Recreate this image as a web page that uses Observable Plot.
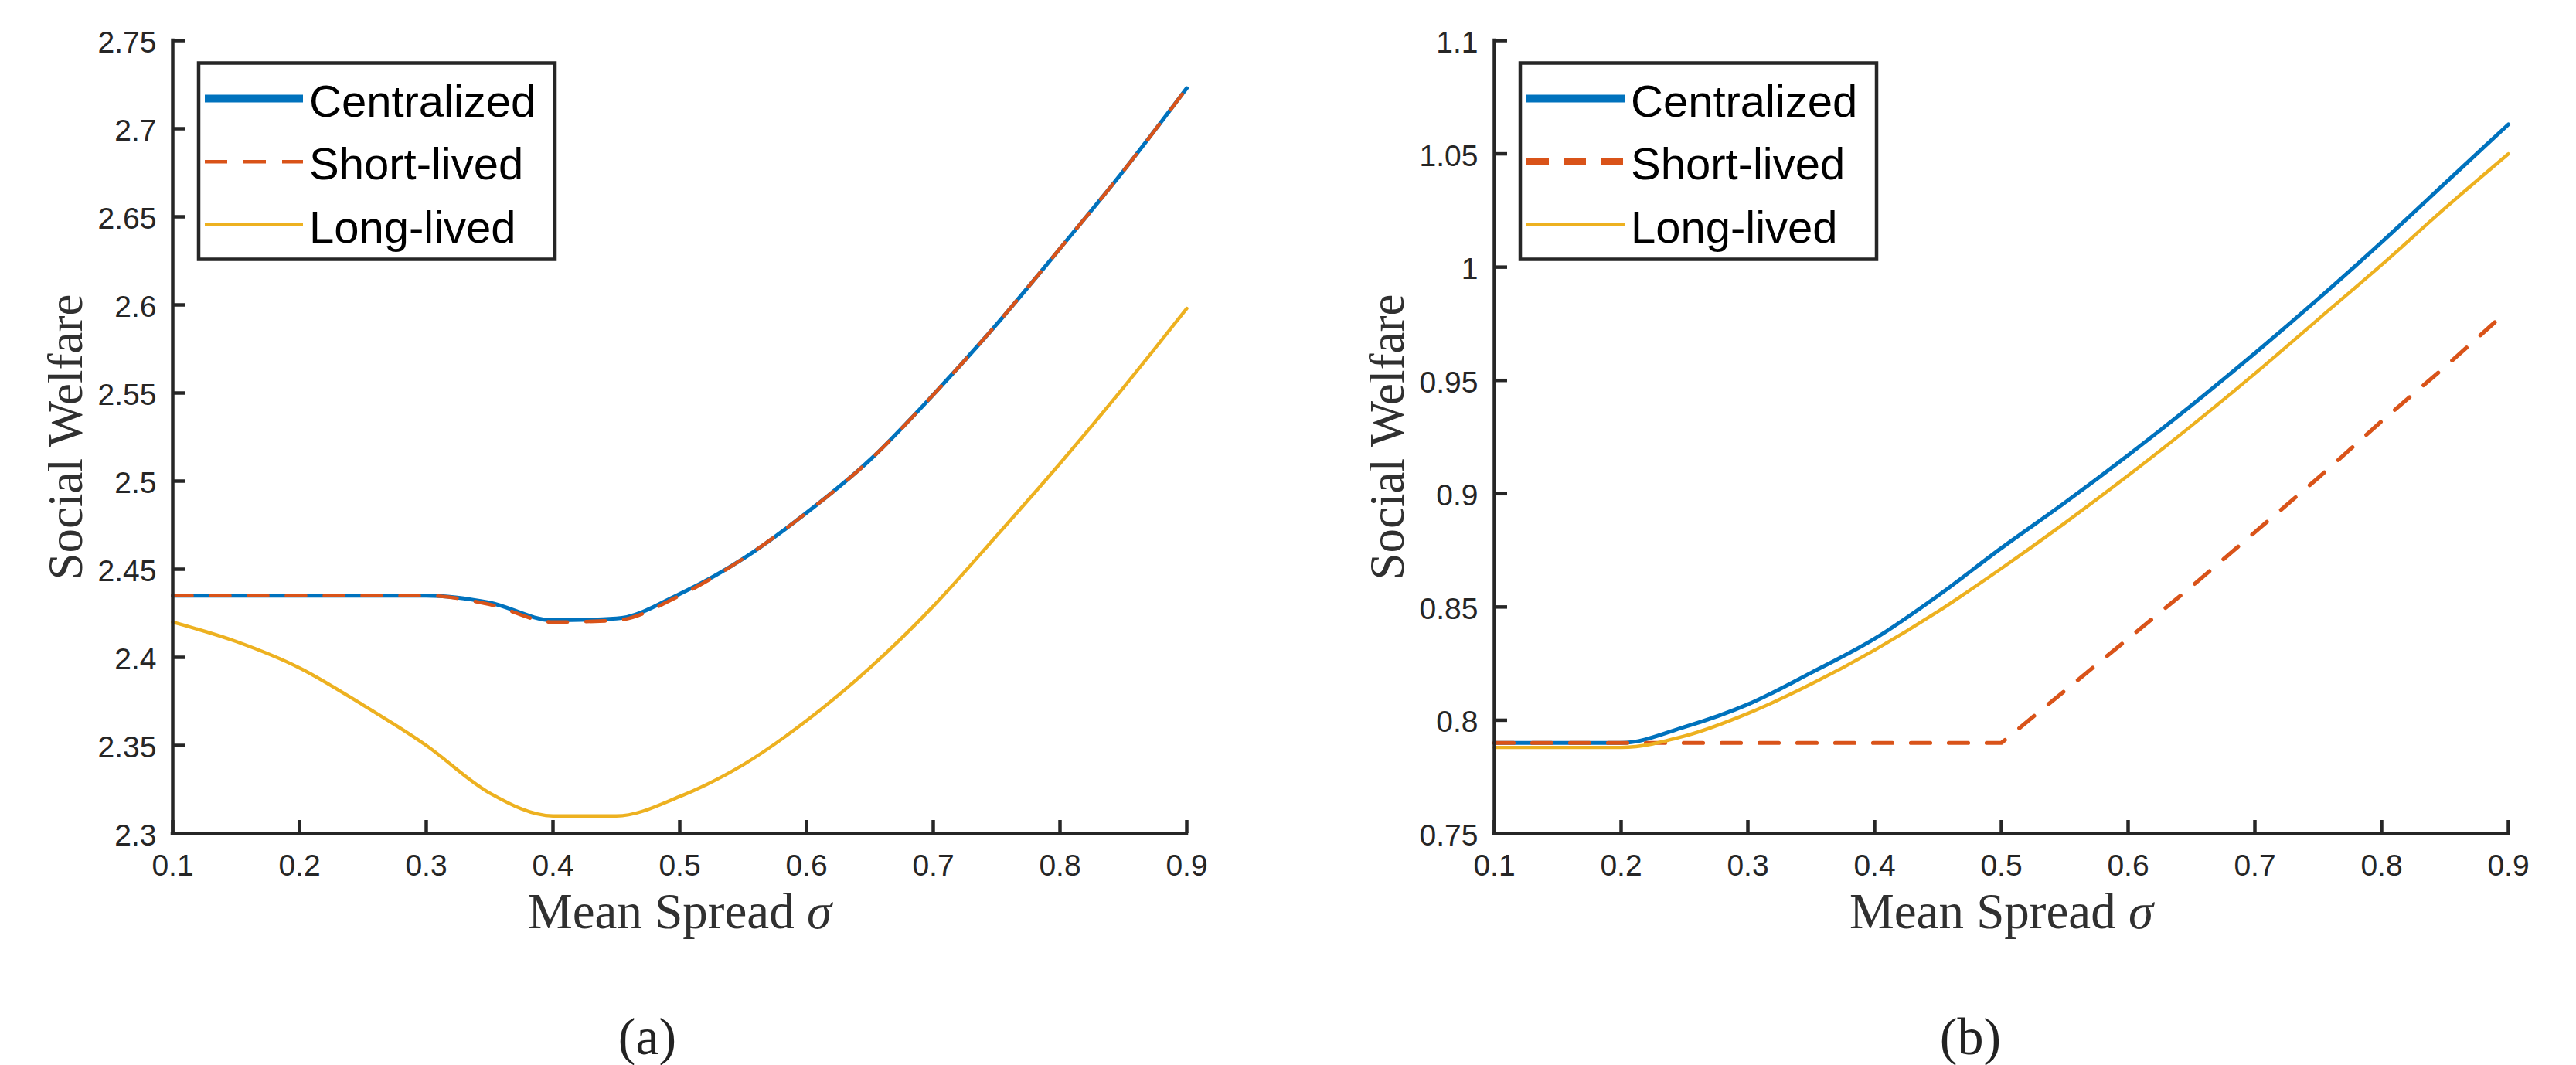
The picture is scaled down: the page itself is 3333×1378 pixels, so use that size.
<!DOCTYPE html>
<html><head><meta charset="utf-8">
<script src="https://cdn.jsdelivr.net/npm/d3@7"></script>
<script src="https://cdn.jsdelivr.net/npm/@observablehq/plot@0.6"></script>
<style>
html,body{margin:0;padding:0;background:#fff;}
#fig{position:relative;width:3333px;height:1378px;overflow:hidden;background:#fff;}
#fig svg.plot-panel{position:absolute;top:0;max-width:none;}
</style></head><body><div id="fig"></div>
<script>
// ---- data ----
const sigma = [0.1, 0.15, 0.2, 0.25, 0.3, 0.35, 0.4, 0.45, 0.5, 0.55, 0.6, 0.65, 0.7, 0.75, 0.8, 0.85, 0.9];

const centralizedA = [2.435, 2.435, 2.435, 2.435, 2.435, 2.431, 2.421, 2.422, 2.436, 2.456, 2.482, 2.512, 2.549, 2.589, 2.632, 2.676, 2.723];
const shortLivedA  = [2.435, 2.435, 2.435, 2.435, 2.435, 2.430, 2.420, 2.421, 2.435, 2.456, 2.482, 2.512, 2.549, 2.589, 2.632, 2.676, 2.723];
const longLivedA   = [2.420, 2.409, 2.394, 2.373, 2.350, 2.323, 2.310, 2.310, 2.321, 2.339, 2.364, 2.394, 2.429, 2.469, 2.510, 2.553, 2.598];

const centralizedB = [0.790, 0.790, 0.790, 0.797, 0.807, 0.821, 0.836, 0.855, 0.876, 0.896, 0.917, 0.939, 0.962, 0.986, 1.011, 1.037, 1.063];
const shortLivedB  = [0.790, 0.790, 0.790, 0.790, 0.790, 0.790, 0.790, 0.790, 0.790, 0.813, 0.836, 0.859, 0.883, 0.907, 0.932, 0.956, 0.981];
const longLivedB   = [0.788, 0.788, 0.788, 0.793, 0.803, 0.816, 0.831, 0.848, 0.867, 0.887, 0.908, 0.930, 0.953, 0.977, 1.001, 1.026, 1.050];

const seriesNames  = ["Centralized", "Short-lived", "Long-lived"];
const seriesColors = ["#0072BD", "#D95319", "#EDB120"];

const xTicks  = [0.1, 0.2, 0.3, 0.4, 0.5, 0.6, 0.7, 0.8, 0.9];
const yTicksA = [2.3, 2.35, 2.4, 2.45, 2.5, 2.55, 2.6, 2.65, 2.7, 2.75];
const yTicksB = [0.75, 0.8, 0.85, 0.9, 0.95, 1, 1.05, 1.1];
const xDomain  = [0.1, 0.9];
const yDomainA = [2.3, 2.75];
const yDomainB = [0.75, 1.1];

const xLabel = "Mean Spread σ";
const yLabel = "Social Welfare";
const captions = ["(a)", "(b)"];

// ---- drawing ----
const AXIS = "#262626";
const SERIF = "Liberation Serif, Times New Roman, serif";
const SANS = "Liberation Sans, Arial, sans-serif";
const fig = document.getElementById("fig");

function makePanel(cfg) {
  const {values, yDomain, yTicks, caption, left, width, marginRight, lineW, legendW, legendDash, curves, capDx} = cfg;
  const height = 1378, marginTop = 52, marginBottom = 300, marginLeft = 223;
  const frameW = width - marginLeft - marginRight;
  const frameH = height - marginTop - marginBottom;
  const rows = seriesNames.map((name, i) => sigma.map((s, j) => ({series: name, x: s, y: values[i][j]})));
  const fmt = d => String(d);
  const plot = Plot.plot({
    width, height, marginTop, marginBottom, marginLeft, marginRight,
    x: {domain: xDomain},
    y: {domain: yDomain},
    style: {background: "white", fontFamily: SANS, fontSize: "39px", color: AXIS},
    marks: [
      Plot.axisX(xTicks, {tickSize: 0, tickPadding: 27, tickFormat: fmt, label: null, fontSize: 39}),
      Plot.axisY(yTicks, {tickSize: 0, tickPadding: 21, tickFormat: fmt, label: null, fontSize: 39, dy: 3}),
      ...rows.map((r, i) => Plot.line(r, {
        x: "x", y: "y", stroke: seriesColors[i], strokeWidth: lineW[i], curve: curves[i],
        strokeDasharray: i === 1 ? "25,24" : null, strokeLinejoin: "round"
      })),
      Plot.ruleX(xTicks, {x: d => d, insetTop: frameH - 17, stroke: AXIS, strokeWidth: 4.5}),
      Plot.ruleY(yTicks, {y: d => d, insetRight: frameW - 17, stroke: AXIS, strokeWidth: 4.5}),
      Plot.ruleX([xDomain[0]], {x: d => d, stroke: AXIS, strokeWidth: 4.5, strokeLinecap: "square"}),
      Plot.ruleY([yDomain[0]], {y: d => d, stroke: AXIS, strokeWidth: 4.5, strokeLinecap: "square"}),
      Plot.text([xLabel], {text: d => d, frameAnchor: "bottom", dy: 122, lineAnchor: "bottom", textAnchor: "middle",
        fontSize: 65, fontFamily: SERIF, fill: "#303030"}),
      Plot.text([yLabel], {text: d => d, frameAnchor: "left", rotate: -90, dx: 105 - marginLeft, lineAnchor: "bottom",
        textAnchor: "middle", fontSize: 63, fontFamily: SERIF, fill: "#303030"}),
      Plot.text([caption], {text: d => d, frameAnchor: "bottom", dx: capDx, dy: 285, lineAnchor: "bottom",
        textAnchor: "middle", fontSize: 68, fontFamily: SERIF, fill: "#222"})
    ]
  });
  plot.classList.add("plot-panel");
  plot.style.left = left + "px";
  plot.style.maxWidth = "none";

  // italic sigma in x label
  d3.select(plot).selectAll("text").each(function() {
    if (this.textContent === xLabel) {
      const t = d3.select(this);
      t.text(null);
      t.append("tspan").text(xLabel.slice(0, -1));
      t.append("tspan").attr("font-style", "italic").text(xLabel.slice(-1));
    }
  });

  // legend
  const lg = d3.select(plot).append("g").attr("class", "legend").attr("text-anchor", "start");
  const bx = marginLeft + 34, by = 81.5, bw = 461, bh = 254;
  lg.append("rect").attr("x", bx).attr("y", by).attr("width", bw).attr("height", bh)
    .attr("fill", "white").attr("stroke", AXIS).attr("stroke-width", 4.5);
  seriesNames.forEach((name, i) => {
    const ry = 127.5 + i * 81.7;
    lg.append("line").attr("x1", bx + 8).attr("x2", bx + 135).attr("y1", ry).attr("y2", ry)
      .attr("stroke", seriesColors[i]).attr("stroke-width", legendW[i])
      .attr("stroke-dasharray", i === 1 ? legendDash : null);
    lg.append("text").attr("x", bx + 143).attr("y", ry + 23).attr("text-anchor", "start")
      .attr("font-family", SANS).attr("font-size", 58)
      .attr("fill", "#000").text(name);
  });
  fig.appendChild(plot);
}

makePanel({values: [centralizedA, shortLivedA, longLivedA], yDomain: yDomainA, yTicks: yTicksA,
  caption: captions[0], left: 0, width: 1666, marginRight: 131, capDx: -42,
  curves: ["monotone-x", "monotone-x", "monotone-x"],
  lineW: [5, 4.6, 4.4], legendW: [10, 4.6, 4.2], legendDash: "29,21"});
makePanel({values: [centralizedB, shortLivedB, longLivedB], yDomain: yDomainB, yTicks: yTicksB,
  caption: captions[1], left: 1710, width: 1623, marginRight: 88, capDx: -40,
  curves: ["monotone-x", "linear", "monotone-x"],
  lineW: [5, 5.2, 4.4], legendW: [10, 9.5, 4.2], legendDash: "29,19"});
</script></body></html>
